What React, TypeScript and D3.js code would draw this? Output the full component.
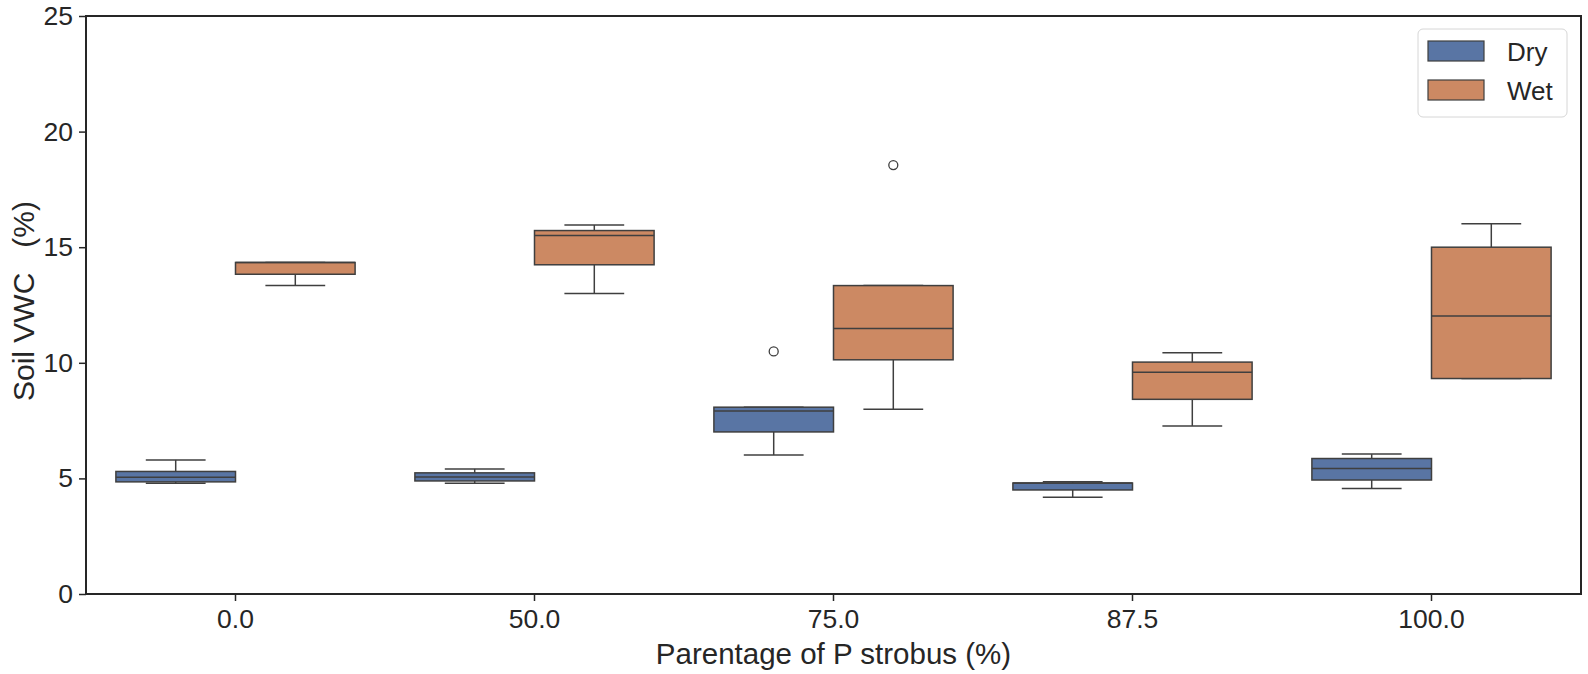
import React, { useEffect, useRef } from 'react';
import * as d3 from 'd3';

const categories = ['0.0', '50.0', '75.0', '87.5', '100.0'];
const groups = ['Dry', 'Wet'];

// [lower whisker, q1, median, q3, upper whisker]
const dryStats = [
  [4.79, 4.85, 5.05, 5.3, 5.8],
  [4.79, 4.89, 5.06, 5.24, 5.41],
  [6.01, 7.01, 7.91, 8.08, 8.08],
  [4.18, 4.5, 4.8, 4.8, 4.85],
  [4.56, 4.93, 5.43, 5.86, 6.05],
];
const wetStats = [
  [13.34, 13.83, 14.34, 14.34, 14.34],
  [13.0, 14.24, 15.51, 15.72, 15.96],
  [7.99, 10.13, 11.48, 13.34, 13.34],
  [7.27, 8.42, 9.59, 10.03, 10.43],
  [9.32, 9.32, 12.02, 15.0, 16.01],
];
const dryOutliers = [[], [], [10.49], [], []];
const wetOutliers = [[], [], [18.55], [], []];

const yTicks = [0, 5, 10, 15, 20, 25];
const colors = ['#5975a4', '#cc8963'];
const lineColor = '#3f3f3f';
const font = 'Liberation Sans, Arial, sans-serif';

const BoxChart = () => {
  const ref = useRef<SVGSVGElement | null>(null);

  useEffect(() => {
    if (!ref.current) return;
    const svg = d3.select(ref.current);
    svg.selectAll('*').remove();

    const margin = { top: 16, right: 7, bottom: 80, left: 86 };
    const width = 1588;
    const height = 674;
    const w = width - margin.left - margin.right;
    const h = height - margin.top - margin.bottom;

    const g = svg.append('g').attr('transform', `translate(${margin.left},${margin.top})`);

    const x = d3.scaleBand().domain(categories).range([0, w]).paddingInner(0).paddingOuter(0);
    const inner = d3.scaleBand().domain(groups).range([x.bandwidth() * 0.1, x.bandwidth() * 0.9]);
    const y = d3.scaleLinear().domain([0, 25]).range([h, 0]);

    const allStats = [dryStats, wetStats];
    const allOutliers = [dryOutliers, wetOutliers];

    groups.forEach((grp, gi) => {
      categories.forEach((cat, ci) => {
        const [lo, q1, med, q3, hi] = allStats[gi][ci];
        const x0 = (x(cat) as number) + (inner(grp) as number);
        const bw = inner.bandwidth();
        const cx = x0 + bw / 2;
        const cell = g.append('g');

        // whiskers
        cell.append('line').attr('x1', cx).attr('x2', cx).attr('y1', y(q1)).attr('y2', y(lo))
          .attr('stroke', lineColor).attr('stroke-width', 1.5);
        cell.append('line').attr('x1', cx).attr('x2', cx).attr('y1', y(q3)).attr('y2', y(hi))
          .attr('stroke', lineColor).attr('stroke-width', 1.5);
        [lo, hi].forEach((v) => {
          cell.append('line').attr('x1', cx - bw / 4).attr('x2', cx + bw / 4)
            .attr('y1', y(v)).attr('y2', y(v))
            .attr('stroke', lineColor).attr('stroke-width', 1.5);
        });

        cell.append('rect')
          .attr('x', x0).attr('width', bw)
          .attr('y', y(q3)).attr('height', Math.max(y(q1) - y(q3), 0.5))
          .attr('fill', colors[gi]).attr('stroke', lineColor).attr('stroke-width', 1.5);

        cell.append('line').attr('x1', x0).attr('x2', x0 + bw).attr('y1', y(med)).attr('y2', y(med))
          .attr('stroke', lineColor).attr('stroke-width', 1.5);

        allOutliers[gi][ci].forEach((v) => {
          cell.append('circle').attr('cx', cx).attr('cy', y(v)).attr('r', 4.5)
            .attr('fill', 'none').attr('stroke', lineColor).attr('stroke-width', 1.3);
        });
      });
    });

    // axes
    const yAxis = g.append('g').call(d3.axisLeft(y).tickValues(yTicks).tickSize(7).tickPadding(6));
    const xAxis = g.append('g').attr('transform', `translate(0,${h})`)
      .call(d3.axisBottom(x).tickSize(7).tickPadding(8));
    [yAxis, xAxis].forEach((ax) => {
      ax.select('.domain').remove();
      ax.selectAll('line').attr('stroke', '#262626').attr('stroke-width', 1.5);
      ax.selectAll('text').attr('font-family', font).attr('font-size', 26.5).attr('fill', '#262626');
    });

    // frame
    g.append('rect').attr('width', w).attr('height', h)
      .attr('fill', 'none').attr('stroke', '#262626').attr('stroke-width', 2);

    // axis labels
    svg.append('text')
      .attr('transform', `translate(${margin.left + w / 2},${height - 10})`)
      .attr('text-anchor', 'middle').attr('font-family', font).attr('font-size', 29.5).attr('fill', '#262626')
      .text('Parentage of P strobus (%)');
    svg.append('text')
      .attr('transform', `translate(34,${margin.top + h / 2 - 4}) rotate(-90)`)
      .attr('text-anchor', 'middle').attr('font-family', font).attr('font-size', 30).attr('fill', '#262626')
      .attr('xml:space', 'preserve').style('white-space', 'pre')
      .text('Soil VWC   (%)');

    // legend
    const lg = svg.append('g').attr('transform', `translate(1418,29)`);
    lg.append('rect').attr('width', 149).attr('height', 88).attr('rx', 5)
      .attr('fill', 'white').attr('fill-opacity', 0.8).attr('stroke', '#d6d6d6').attr('stroke-width', 1);
    groups.forEach((grp, gi) => {
      const row = lg.append('g').attr('transform', `translate(10,${12 + gi * 39})`);
      row.append('rect').attr('width', 56).attr('height', 20)
        .attr('fill', colors[gi]).attr('stroke', lineColor).attr('stroke-width', 1.2);
      row.append('text').attr('x', 79).attr('y', 20).attr('font-family', font).attr('font-size', 26)
        .attr('fill', '#262626').text(grp);
    });
  }, []);

  return <svg width={1588} height={674} ref={ref} style={{ display: 'block' }} />;
};

export default function App() {
  return (
    <div style={{ position: 'absolute', left: 0, top: 0, background: 'white' }}>
      <BoxChart />
    </div>
  );
}
